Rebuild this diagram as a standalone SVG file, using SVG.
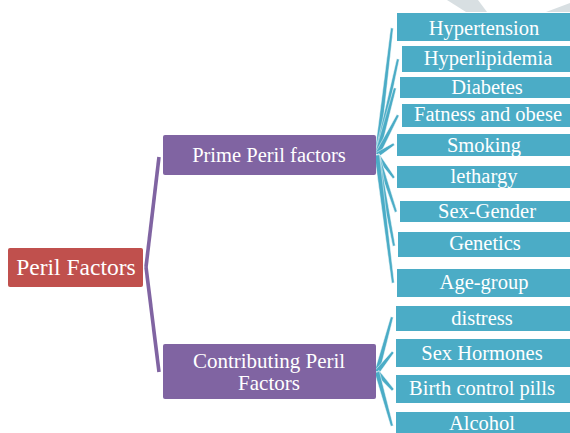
<svg xmlns="http://www.w3.org/2000/svg" width="570" height="433" viewBox="0 0 570 433">
<style>
text{font-family:"Liberation Serif","Times New Roman","DejaVu Serif",serif;fill:#fff;text-anchor:middle}
.red{fill:#c0504d}
.pur{fill:#8064a2}
.teal{fill:#4bacc6}
.tc{fill:#4bacc6;stroke:#fff;stroke-width:0.5}
.pc{fill:#8064a2}
.t{font-size:20.5px}
</style>
<rect width="570" height="433" fill="#fff"/>
<g id="watermark" fill="#d8dfe2">
<polygon points="447,0 478,0 487,12 466,12"/>
<polygon points="546,12 570,3 570,12"/>
</g>
<g id="connectors">
<polygon class="pc" points="144.2,266.8 147.8,267.2 160.8,157.2 157.2,156.8"/>
<polygon class="pc" points="147.8,266.8 144.2,267.2 157.2,372.2 160.8,371.8"/>
<polygon class="tc" points="374.5,154.7 379.5,155.3 393.3,28.2 390.7,27.8"/>
<polygon class="tc" points="374.6,154.5 379.4,155.5 399.3,59.3 396.7,58.7"/>
<polygon class="tc" points="374.6,154.4 379.4,155.6 396.3,88.3 393.7,87.7"/>
<polygon class="tc" points="374.8,153.8 379.2,156.2 399.2,115.6 396.8,114.4"/>
<polygon class="tc" points="375.6,152.9 378.4,157.1 394.7,145.1 393.3,142.9"/>
<polygon class="tc" points="379,153.5 375,156.5 393,178.8 395,177.2"/>
<polygon class="tc" points="379.4,154.2 374.6,155.8 394.8,212.4 397.2,211.6"/>
<polygon class="tc" points="379.5,154.5 374.5,155.5 392.7,246.2 395.3,245.8"/>
<polygon class="tc" points="379.5,154.7 374.5,155.3 391.7,283.2 394.3,282.8"/>
<polygon class="tc" points="374.6,371.3 379.4,372.7 393.3,317.3 390.7,316.7"/>
<polygon class="tc" points="375,370.4 379,373.6 394,352.8 392,351.2"/>
<polygon class="tc" points="378.9,370.3 375.1,373.7 392,390.9 394,389.1"/>
<polygon class="tc" points="379.4,371.3 374.6,372.7 390.7,426.3 393.3,425.7"/>
</g>
<g id="peril-factors"><rect class="red" x="8" y="248" width="135" height="39" rx="2"/><text x="76" y="275" style="font-size:23.5px">Peril Factors</text></g>
<g id="prime"><rect class="pur" x="163" y="135" width="213" height="40" rx="2"/><text x="269" y="162" class="t">Prime Peril factors</text></g>
<g id="contributing"><rect class="pur" x="163" y="344" width="213" height="55" rx="2"/><text x="269" y="368" style="font-size:21px">Contributing Peril</text><text x="269" y="390" style="font-size:21px">Factors</text></g>
<g id="hypertension"><rect class="teal" x="397" y="13" width="176" height="28"/><text x="484" y="35" class="t">Hypertension</text></g>
<g id="hyperlipidemia"><rect class="teal" x="402" y="46" width="171" height="26"/><text x="488" y="65" class="t">Hyperlipidemia</text></g>
<g id="diabetes"><rect class="teal" x="400" y="77" width="173" height="21"/><text x="487" y="94" class="t">Diabetes</text></g>
<g id="fatness"><rect class="teal" x="402" y="104" width="171" height="23"/><text x="488" y="121" class="t">Fatness and obese</text></g>
<g id="smoking"><rect class="teal" x="397" y="134" width="176" height="22"/><text x="484" y="152" class="t">Smoking</text></g>
<g id="lethargy"><rect class="teal" x="397" y="166" width="176" height="22"/><text x="484" y="183" class="t">lethargy</text></g>
<g id="sex-gender"><rect class="teal" x="400" y="201" width="173" height="21"/><text x="487" y="218" class="t">Sex-Gender</text></g>
<g id="genetics"><rect class="teal" x="398" y="232" width="175" height="25"/><text x="485" y="250" class="t">Genetics</text></g>
<g id="age-group"><rect class="teal" x="397" y="269" width="176" height="28"/><text x="484" y="289" class="t">Age-group</text></g>
<g id="distress"><rect class="teal" x="396" y="306" width="177" height="25"/><text x="482" y="325" class="t">distress</text></g>
<g id="sex-hormones"><rect class="teal" x="396" y="339" width="177" height="28"/><text x="482" y="360" class="t">Sex Hormones</text></g>
<g id="birth-control"><rect class="teal" x="396" y="375" width="177" height="28"/><text x="482" y="395" class="t">Birth control pills</text></g>
<g id="alcohol"><rect class="teal" x="396" y="412" width="177" height="25"/><text x="482" y="430" class="t">Alcohol</text></g>
</svg>
